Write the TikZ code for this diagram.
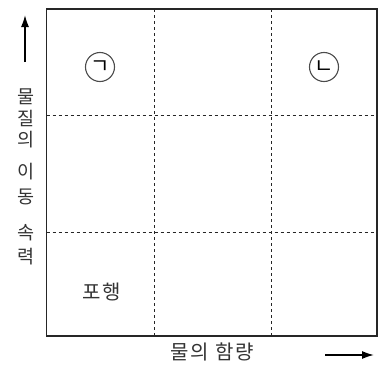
\documentclass[tikz,border=0pt]{standalone}
\usepackage{fontspec}
\setmainfont{Noto Sans CJK KR}
\usetikzlibrary{arrows.meta}
\begin{document}
\begin{tikzpicture}[x=1pt,y=-1pt,
  frame/.style={line width=1.8pt,draw=black!85},
  grid/.style={dashed,dash pattern=on 3pt off 3pt,line width=1pt,draw=black!85},
  axisarrow/.style={line width=1.6pt,-{Latex[length=12pt,width=8pt]}},
  lbl/.style={font=\fontsize{20}{20}\selectfont,text=black!80,inner sep=0pt},
  vlbl/.style={font=\fontsize{18.5}{18.5}\selectfont,text=black!80,inner sep=0pt},
  circ/.style={circle,draw=black!70,line width=1.1pt,minimum size=29pt,inner sep=0pt,font=\fontsize{21}{21}\selectfont}]
\useasboundingbox (0,0) rectangle (381,370);
\coordinate (tl) at (46.5,9);
\coordinate (br) at (377,336);
\coordinate (v1t) at (154,9); \coordinate (v1b) at (154,336);
\coordinate (v2t) at (271,9); \coordinate (v2b) at (271,336);
\coordinate (h1l) at (46.5,115); \coordinate (h1r) at (377,115);
\coordinate (h2l) at (46.5,232); \coordinate (h2r) at (377,232);
\draw[grid] (v1t) -- (v1b);
\draw[grid] (v2t) -- (v2b);
\draw[grid] (h1l) -- (h1r);
\draw[grid] (h2l) -- (h2r);
\draw[frame] (tl) rectangle (br);
\node[circ] (c1) at (100,67) {ㄱ};
\node[circ] (c2) at (324,67) {ㄴ};
\node[lbl] (ph) at (102,292) {포\hspace{1.5pt}행};
\node[lbl] (xl) at (212,352) {물\hspace{1.5pt}의\hspace{7pt}함\hspace{1.5pt}량};
\node[vlbl] (y1) at (26,97) {물};
\node[vlbl] (y2) at (26,118) {질};
\node[vlbl] (y3) at (26,140) {의};
\node[vlbl] (y4) at (26,172) {이};
\node[vlbl] (y5) at (26,197) {동};
\node[vlbl] (y6) at (26,233) {속};
\node[vlbl] (y7) at (26,257) {력};
\coordinate (ya) at (25,62); \coordinate (yb) at (25,15);
\draw[axisarrow] (ya) -- (yb);
\coordinate (xa) at (325,355); \coordinate (xb) at (374,355);
\draw[axisarrow] (xa) -- (xb);
\end{tikzpicture}
\end{document}
